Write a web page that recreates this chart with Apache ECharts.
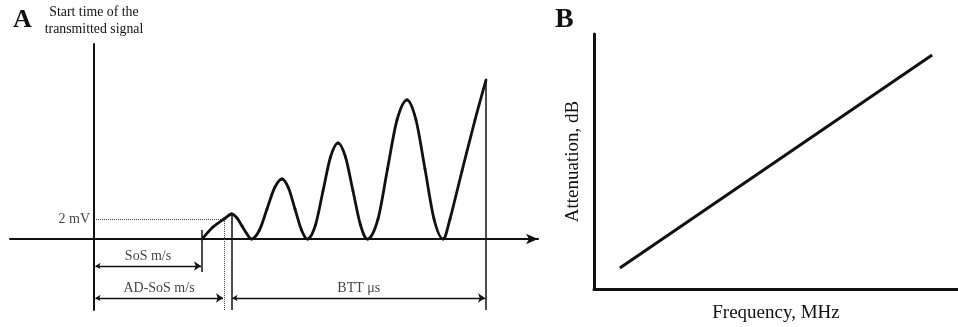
<!DOCTYPE html>
<html>
<head>
<meta charset="utf-8">
<script src="https://cdn.jsdelivr.net/npm/echarts@6/dist/echarts.min.js"></script>
<style>html,body{margin:0;padding:0;background:#fff}#c{width:958px;height:327px}</style>
</head>
<body>
<div id="c"></div>
<script>
// Panel A: received signal (time units, mV)
const waveT  = [10.8, 11.9, 13.0, 13.75, 14.3, 14.8, 15.3, 15.8,
                16.55, 17.3, 18.05, 18.8, 19.45, 20.1, 20.75, 21.4,
                22.15, 22.9, 23.65, 24.4, 25.15, 25.9, 26.65, 27.4,
                28.4, 29.35, 30.3, 31.3, 32.2, 33.1, 34.0, 34.9,
                35.6, 36.8, 38.1, 39.2];
const waveMV = [0, 1.2, 2.0, 2.5, 2.1, 1.3, 0.5, 0,
                0.9, 3.0, 5.1, 6.0, 5.1, 3.0, 0.9, 0,
                1.4, 4.8, 8.2, 9.6, 8.2, 4.8, 1.4, 0,
                2.0, 7.0, 11.9, 13.9, 11.9, 7.0, 2.0, 0,
                2.0, 6.8, 11.9, 15.9];
const thresholdMV = 2;
const sosT = 10.8;      // SoS marker
const adSosT = 13.0;    // AD-SoS marker (2 mV crossing)
const bttStartT = 13.75;
const bttEndT = 39.2;
const dimLabels = ['SoS m/s', 'AD-SoS m/s', 'BTT \u03bcs'];
// Panel B: attenuation vs frequency
const freq = [7.1, 92.9];
const atten = [8.2, 91.8];

const serif = '"Liberation Serif", "DejaVu Serif", serif';
const ink = '#111';
const txt = '#111';
const chart = echarts.init(document.getElementById('c'), null, {renderer: 'canvas'});

const hidden = {axisLabel:{show:false}, axisTick:{show:false}, splitLine:{show:false}};
const lowY = -7.1, arrowY1 = -2.7, arrowY2 = -5.9;

// smooth curve through the read points, drawn in pixel space from the axis scales
function renderWave(params, api) {
  if (params.dataIndex !== 0) return null;
  const P = waveT.map((t, i) => api.coord([t, waveMV[i]]));
  const n = P.length, children = [];
  for (let i = 0; i < n - 1; i++) {
    const p0 = P[Math.max(i - 1, 0)], p1 = P[i], p2 = P[i + 1], p3 = P[Math.min(i + 2, n - 1)];
    children.push({
      type: 'bezierCurve',
      shape: {
        x1: p1[0], y1: p1[1], x2: p2[0], y2: p2[1],
        cpx1: p1[0] + (p2[0] - p0[0]) / 6, cpy1: p1[1] + (p2[1] - p0[1]) / 6,
        cpx2: p2[0] - (p3[0] - p1[0]) / 6, cpy2: p2[1] - (p3[1] - p1[1]) / 6
      },
      style: {stroke: ink, lineWidth: 2.8, fill: null, lineCap: 'round', lineJoin: 'round'}
    });
  }
  return {type: 'group', children};
}

chart.setOption({
  animation: false,
  backgroundColor: '#fff',
  graphic: [
    {type:'text', left: 13, top: 7, style:{text:'A', font:'bold 26px ' + serif, fill: ink}},
    {type:'text', left: 555, top: 6, style:{text:'B', font:'bold 28px ' + serif, fill: ink}}
  ],
  grid: [
    {left: 10, right: 420, top: 44, bottom: 17, containLabel:false, outerBoundsMode:'none'},
    {left: 594, right: 0, top: 34, bottom: 38, containLabel:false, outerBoundsMode:'none'}
  ],
  xAxis: [
    Object.assign({type:'value', gridIndex:0, min:-8.4, max:44.4,
      axisLine:{show:true, onZero:true, symbol:['none','arrow'], symbolSize:[8,12], lineStyle:{color:ink, width:2}}}, hidden),
    Object.assign({type:'value', gridIndex:1, min:0, max:100,
      name:'Frequency, MHz', nameLocation:'middle', nameGap:15,
      nameTextStyle:{fontFamily:serif, fontSize:19, color:txt},
      axisLine:{show:true, onZero:false, lineStyle:{color:ink, width:3}}}, hidden)
  ],
  yAxis: [
    Object.assign({type:'value', gridIndex:0, min:lowY, max:19.5,
      name:'Start time of the\ntransmitted signal', nameLocation:'end', nameGap:6,
      nameTextStyle:{fontFamily:serif, fontSize:13.8, lineHeight:17, color:txt, align:'center'},
      axisLine:{show:true, onZero:true, lineStyle:{color:ink, width:2}}}, hidden),
    Object.assign({type:'value', gridIndex:1, min:0, max:100,
      name:'Attenuation, dB', nameLocation:'middle', nameGap:11,
      nameTextStyle:{fontFamily:serif, fontSize:19, color:txt},
      axisLine:{show:true, onZero:false, lineStyle:{color:ink, width:3}}}, hidden)
  ],
  series: [
    {type:'custom', xAxisIndex:0, yAxisIndex:0, data: waveT.map((t,i)=>[t, waveMV[i]]),
      renderItem: renderWave, encode:{x:0, y:1}, z:5, silent:true, clip:false},
    // dotted guides for 2 mV threshold
    {type:'lines', coordinateSystem:'cartesian2d', xAxisIndex:0, yAxisIndex:0, symbol:'none',
      lineStyle:{color:'#444', width:1, type:'dotted', opacity:1},
      data:[{coords:[[0, thresholdMV],[adSosT, thresholdMV]]}, {coords:[[adSosT, thresholdMV],[adSosT, lowY]]}]},
    // solid marker lines
    {type:'lines', coordinateSystem:'cartesian2d', xAxisIndex:0, yAxisIndex:0, symbol:'none',
      lineStyle:{color:ink, width:1.5, opacity:1},
      data:[{coords:[[sosT, 0.9],[sosT, -3.3]]},
            {coords:[[bttStartT, 2.5],[bttStartT, lowY]]},
            {coords:[[bttEndT, waveMV[waveMV.length-1]],[bttEndT, lowY]]}]},
    // dimension arrows
    {type:'lines', coordinateSystem:'cartesian2d', xAxisIndex:0, yAxisIndex:0,
      symbol:['arrow','arrow'], symbolSize:[5,7],
      lineStyle:{color:ink, width:1.3, opacity:1},
      data:[{coords:[[0.15, arrowY1],[sosT-0.1, arrowY1]]},
            {coords:[[0.15, arrowY2],[adSosT-0.1, arrowY2]]},
            {coords:[[bttStartT+0.1, arrowY2],[bttEndT-0.1, arrowY2]]}]},
    // dimension labels
    {type:'scatter', xAxisIndex:0, yAxisIndex:0, symbolSize:0, silent:true,
      data:[[sosT/2, arrowY1, dimLabels[0]], [adSosT/2, arrowY2, dimLabels[1]], [(bttStartT+bttEndT)/2, arrowY2, dimLabels[2]]],
      label:{show:true, position:'top', distance:3, formatter:p=>p.data[2], fontFamily:serif, fontSize:14, color:txt}},
    // threshold label
    {type:'scatter', xAxisIndex:0, yAxisIndex:0, symbolSize:0, silent:true,
      data:[[0, thresholdMV, thresholdMV + ' mV']],
      label:{show:true, position:'left', distance:4, formatter:p=>p.data[2], fontFamily:serif, fontSize:14, color:txt}},
    // Panel B line
    {type:'line', xAxisIndex:1, yAxisIndex:1, data: freq.map((f,i)=>[f, atten[i]]),
      showSymbol:false, symbol:'none', lineStyle:{color:ink, width:3}}
  ]
});
</script>
</body>
</html>
